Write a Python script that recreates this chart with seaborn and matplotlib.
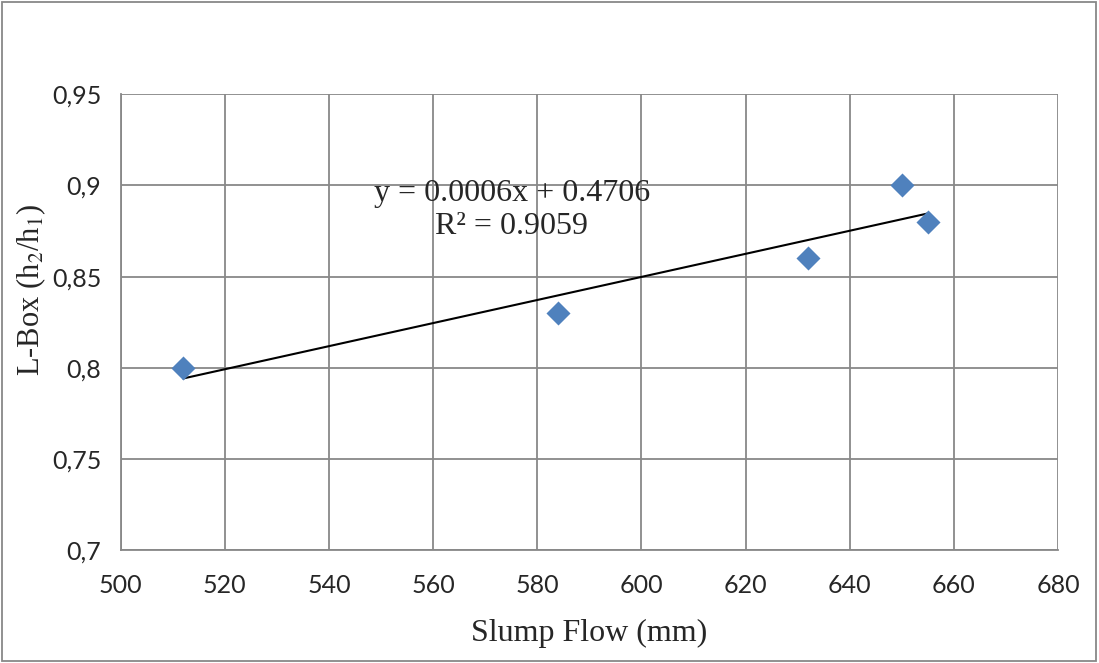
import numpy as np
import pandas as pd
import matplotlib
matplotlib.use("Agg")
import matplotlib.pyplot as plt
import seaborn as sns
from matplotlib.patches import Rectangle

# dados
slump_flow = [512, 584, 632, 650, 655]
l_box = [0.80, 0.83, 0.86, 0.90, 0.88]
x_ticks = [500, 520, 540, 560, 580, 600, 620, 640, 660, 680]
y_ticks = [0.70, 0.75, 0.80, 0.85, 0.90, 0.95]
y_tick_labels = ["0,7", "0,75", "0,8", "0,85", "0,9", "0,95"]

df = pd.DataFrame({"Slump Flow": slump_flow, "L-Box": l_box})

sns.set_style("white")
plt.rcParams["mathtext.fontset"] = "stix"

fig = plt.figure(figsize=(10.99, 6.63), dpi=100)
ax = fig.add_axes([0.1098, 0.1697, 0.8529, 0.6885])

grid_c = "#888888"

# linha de tendência (regressão linear)
slope, intercept = np.polyfit(df["Slump Flow"], df["L-Box"], 1)
r2 = np.corrcoef(df["Slump Flow"], df["L-Box"])[0, 1] ** 2
xs = np.array([df["Slump Flow"].min(), df["Slump Flow"].max()])
ax.plot(xs, slope * xs + intercept, color="black", lw=1.5, zorder=3)

sns.scatterplot(data=df, x="Slump Flow", y="L-Box", marker="D", s=150,
                color="#4F81BD", edgecolor="#4F81BD", linewidth=0, ax=ax, zorder=4)

ax.set_xlim(500, 680)
ax.set_ylim(0.70, 0.95)
ax.set_xticks(x_ticks)
ax.set_xticklabels([str(t) for t in x_ticks])
ax.set_yticks(y_ticks)
ax.set_yticklabels(y_tick_labels)
ax.grid(True, color=grid_c, lw=1.3)
ax.set_axisbelow(True)
for s in ["top", "right"]:
    ax.spines[s].set_visible(False)
for s in ["left", "bottom"]:
    ax.spines[s].set_color(grid_c)
    ax.spines[s].set_linewidth(1.3)
ax.tick_params(axis="both", direction="out", length=7, width=1.3, color=grid_c,
               labelsize=18)
ax.tick_params(axis="x", pad=10)
ax.tick_params(axis="y", pad=7)
for lbl in ax.get_xticklabels() + ax.get_yticklabels():
    lbl.set_family("Lato")

ax.set_xlabel("Slump Flow (mm)", fontsize=23, family="Liberation Serif", labelpad=16)
ax.set_ylabel("L-Box (h$_2$/h$_1$)", fontsize=22, family="Liberation Serif")
ax.yaxis.set_label_coords(-0.077, 0.571)

ax.text(575.1, 0.8865, f"y = {slope:.4f}x + {intercept:.4f}\nR² = {r2:.4f}",
        ha="center", va="center", fontsize=23, family="Liberation Serif",
        linespacing=1.2, zorder=5)

fig.patches.append(Rectangle((0.002, 0.003), 0.995, 0.994, transform=fig.transFigure,
                             fill=False, edgecolor=grid_c, lw=1.3))

fig.savefig("out.png", dpi=100)
